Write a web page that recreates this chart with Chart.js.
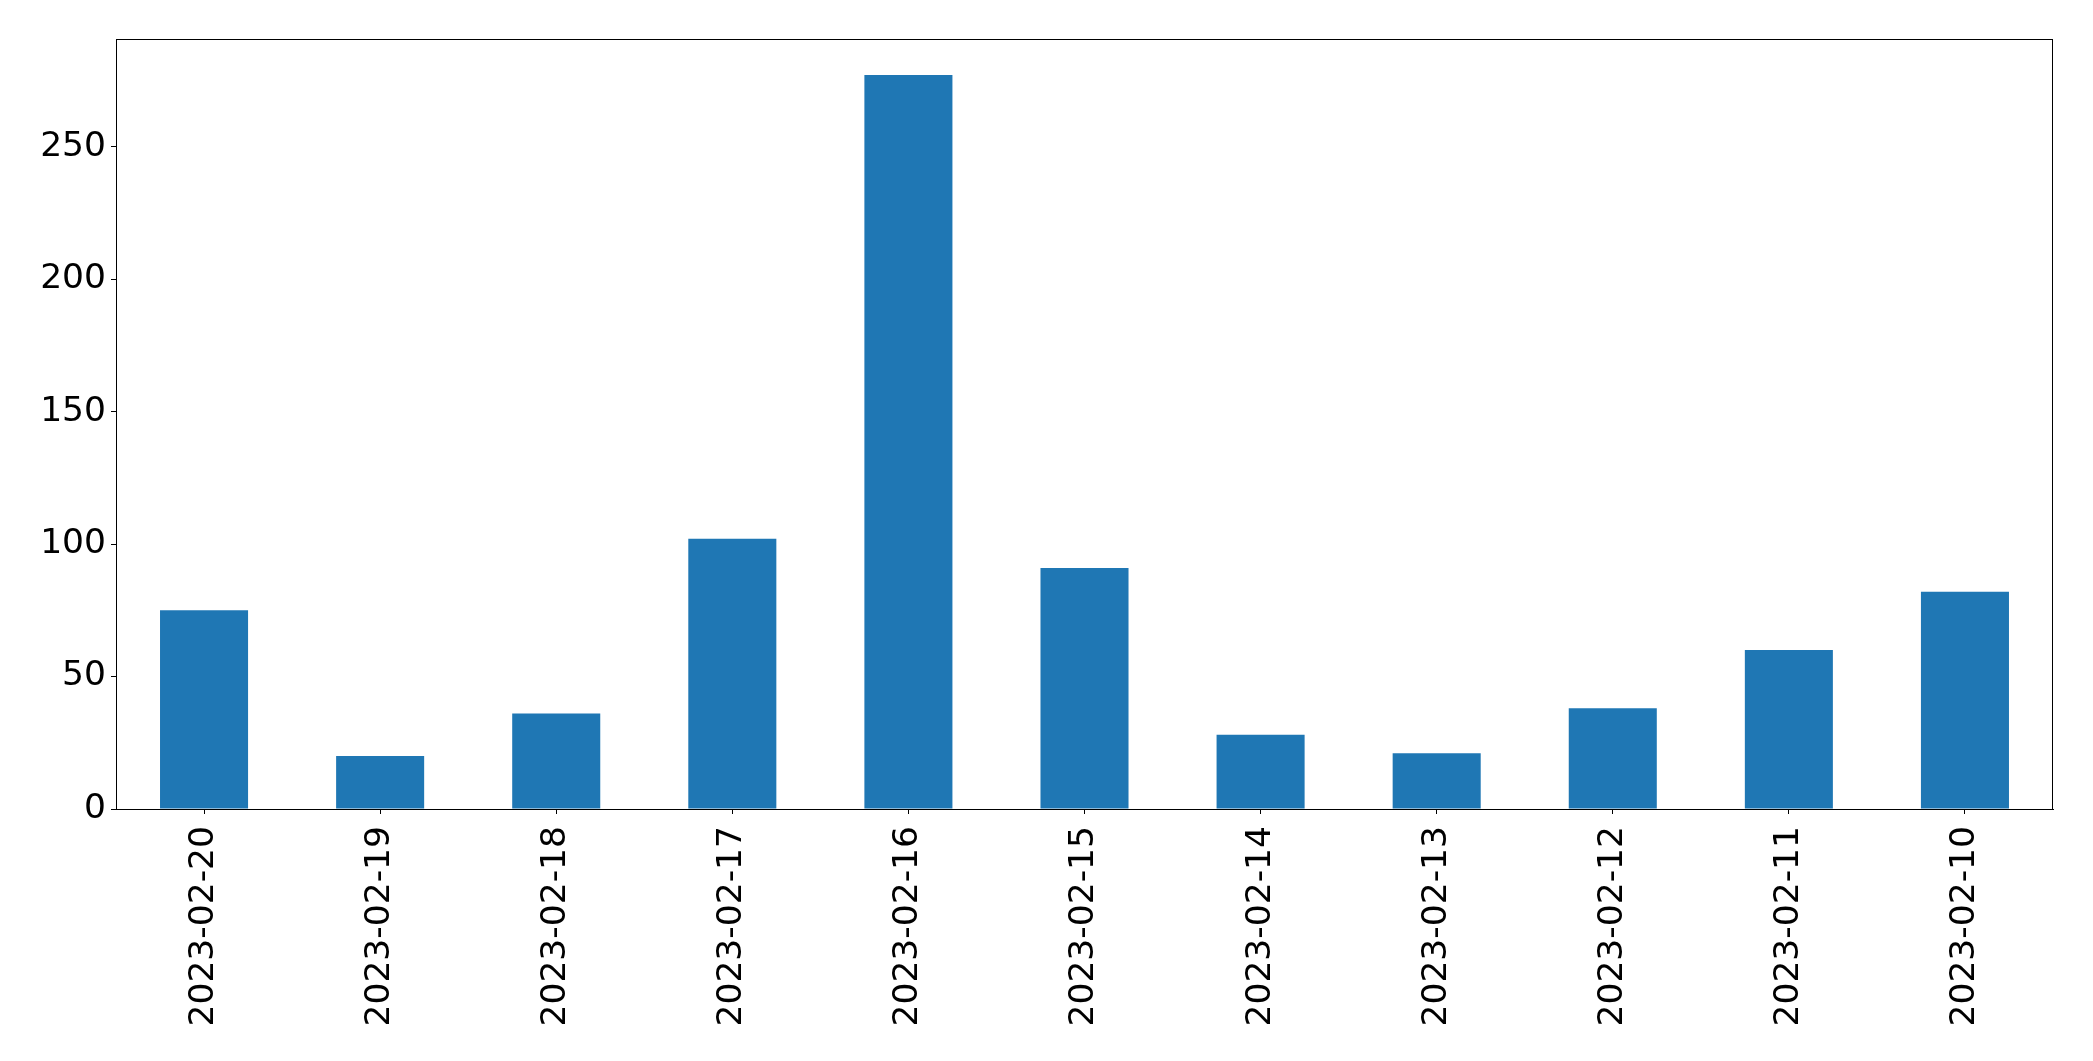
<!DOCTYPE html>
<html lang="en">
  <head>
    <meta charset="UTF-8" />
    <title>Daily Counts</title>
    <style>
      html, body { margin: 0; padding: 0; background: #fff; }
      #wrap { width: 2093px; height: 1061px; }
    </style>
    <script src="https://cdn.jsdelivr.net/npm/chart.js"></script>
  </head>
  <body>
    <div id="wrap"><canvas id="barChart"></canvas></div>

    <script>
      // dates (x categories) and counts
      const dates = [
        "2023-02-20", "2023-02-19", "2023-02-18", "2023-02-17",
        "2023-02-16", "2023-02-15", "2023-02-14", "2023-02-13",
        "2023-02-12", "2023-02-11", "2023-02-10",
      ];
      const counts = [75, 20, 36, 102, 277, 91, 28, 21, 38, 60, 82];
      const yTicks = [0, 50, 100, 150, 200, 250];

      // frame around the plot area (matplotlib style box)
      const frame = {
        id: "frame",
        afterDraw(chart) {
          const a = chart.chartArea;
          const c = chart.ctx;
          c.save();
          c.strokeStyle = "#000";
          c.lineWidth = 1;
          c.strokeRect(a.left + 0.5, a.top + 0.5, a.right - a.left - 1, a.bottom - a.top);
          c.restore();
        },
      };

      const ctx = document.getElementById("barChart").getContext("2d");
      new Chart(ctx, {
        type: "bar",
        data: {
          labels: dates,
          datasets: [
            {
              data: counts,
              backgroundColor: "#1f77b4",
              categoryPercentage: 1,
              barPercentage: 0.5,
            },
          ],
        },
        options: {
          responsive: true,
          maintainAspectRatio: false,
          animation: false,
          layout: { padding: { left: 0, right: 40, top: 39, bottom: 0 } },
          plugins: {
            legend: { display: false },
            tooltip: { enabled: false },
          },
          scales: {
            x: {
              grid: {
                offset: false,
                drawOnChartArea: false,
                tickLength: 5,
                tickColor: "#000",
              },
              border: { color: "#000", width: 1 },
              ticks: {
                color: "#000",
                font: { family: "DejaVu Sans", size: 34.5 },
                minRotation: 90,
                maxRotation: 90,
                padding: 12,
              },
              afterFit(scale) { scale.height = 252; },
            },
            y: {
              min: 0,
              max: 290.6,
              grid: {
                drawOnChartArea: false,
                tickLength: 5,
                tickColor: "#000",
              },
              border: { color: "#000", width: 1 },
              ticks: {
                color: "#000",
                font: { family: "DejaVu Sans", size: 34.5 },
                stepSize: 50,
                padding: 5,
              },
              afterBuildTicks(scale) {
                scale.ticks = yTicks.map((v) => ({ value: v }));
              },
              afterFit(scale) { scale.width = 116; },
            },
          },
        },
        plugins: [frame],
      });
    </script>
  </body>
</html>
